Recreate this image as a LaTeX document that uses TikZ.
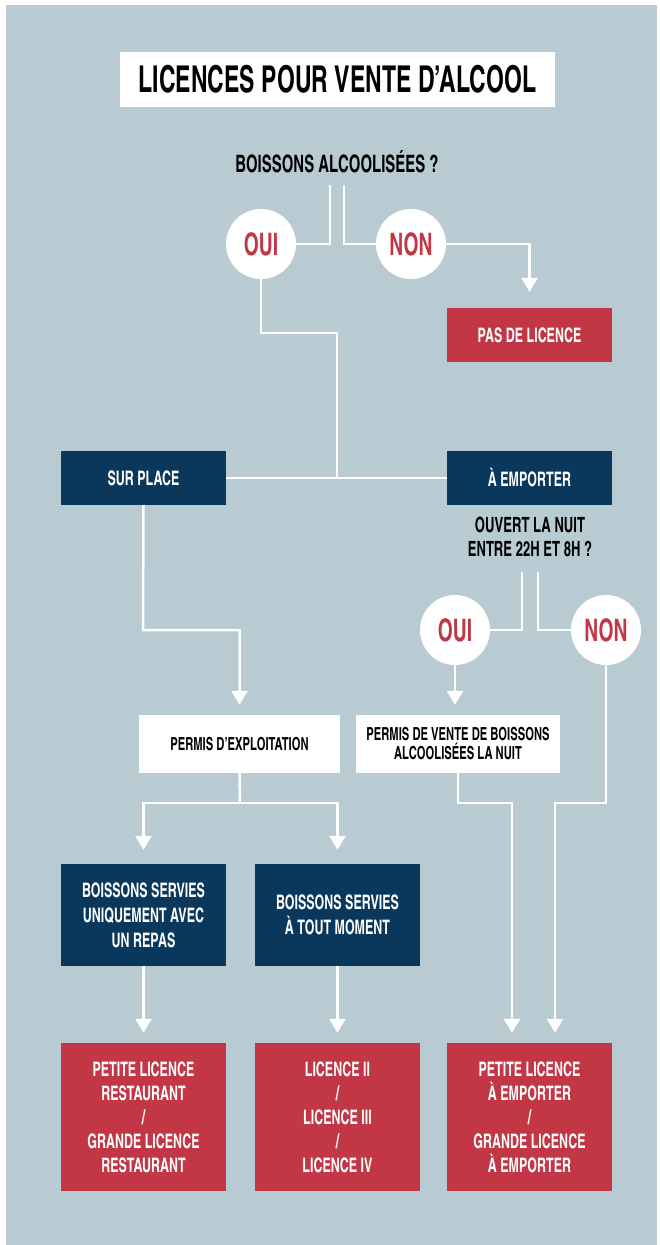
\documentclass[tikz,border=0pt]{standalone}
\usepackage{fontspec}
\setmainfont{TeX Gyre Heros Cn}[FakeStretch=0.76]
\usetikzlibrary{arrows.meta,calc}

\definecolor{fond}{RGB}{185,203,210}
\definecolor{marine}{RGB}{10,56,92}
\definecolor{rouge}{RGB}{195,54,69}

\tikzset{
  boite/.style={minimum width=165pt, minimum height=54pt, inner sep=0pt, align=center,
                font=\bfseries\fontsize{20}{24}\selectfont},
  boitemarine/.style={boite, fill=marine, text=white},
  boiterouge/.style={boite, fill=rouge, text=white},
  boiteblanche/.style={boite, fill=white, text=black, minimum height=58pt},
  rond/.style={circle, fill=white, text=rouge, minimum size=70pt, inner sep=0pt,
               font=\bfseries\fontsize{31}{31}\selectfont},
  question/.style={align=center, text=black, inner sep=0pt},
  trait/.style={draw=white, line width=2.5pt},
  fleche/.style={trait, -{Triangle[width=16pt,length=14pt]}}
}

\begin{document}
\begin{tikzpicture}[x=1pt,y=-1pt]
\useasboundingbox (0,0) rectangle (660,1245);

%%%%%%%%%%%%%%%%%%%%%%%%%%%%%%%%%%%%%%%%%%%%%%%% 	FOND
\fill[fond] (6,5) rectangle (657,1245);

%%%%%%%%%%%%%%%%%%%%%%%%%%%%%%%%%%%%%%%%%%%%%%%% 	TITRE
\node[fill=white, minimum width=435pt, minimum height=55pt, inner sep=0pt,
      font=\bfseries\fontsize{37}{37}\selectfont] (titre) at (337.5,79.5)
      {LICENCES POUR VENTE D’ALCOOL};

%%%%%%%%%%%%%%%%%%%%%%%%%%%%%%%%%%%%%%%%%%%%%%%% 	PREMIERE QUESTION
\node[question, font=\bfseries\fontsize{24}{24}\selectfont] (q1) at (337,162)
      {BOISSONS ALCOOLISÉES ?};
\coordinate (q1g) at (330,185);				%%%%	depart des deux traits
\coordinate (q1d) at (344,185);

\node[rond] (oui1) at (261,244) {OUI};
\node[rond] (non1) at (411,244) {NON};
\node[boiterouge] (pas) at (529.5,335) {PAS DE LICENCE};

\draw[trait] (oui1.east) -| (q1g);
\draw[trait] (q1d) |- (non1.west);
\draw[fleche, shorten >=16pt] (non1.east) -| (pas.north);

%%%%%%%%%%%%%%%%%%%%%%%%%%%%%%%%%%%%%%%%%%%%%%%% 	SUR PLACE / A EMPORTER
\node[boitemarine] (surplace) at (143.5,478) {SUR PLACE};
\node[boitemarine] (emporter) at (529.5,478) {À EMPORTER};

\coordinate (j1) at (337,333);				%%%%	coude sous le OUI
\draw[trait] (oui1.south) |- (j1) -- (j1 |- surplace.east);
\draw[trait] (surplace.east) -- (emporter.west);

%%%%%%%%%%%%%%%%%%%%%%%%%%%%%%%%%%%%%%%%%%%%%%%% 	DEUXIEME QUESTION
\node[question, font=\bfseries\fontsize{21}{24}\selectfont] (q2) at (530,537)
      {OUVERT LA NUIT\\ENTRE 22H ET 8H ?};
\coordinate (q2g) at (522,572);
\coordinate (q2d) at (538,572);

\node[rond] (oui2) at (455,630) {OUI};
\node[rond] (non2) at (606,630) {NON};

\draw[trait] (oui2.east) -| (q2g);
\draw[trait] (q2d) |- (non2.west);

%%%%%%%%%%%%%%%%%%%%%%%%%%%%%%%%%%%%%%%%%%%%%%%% 	PERMIS
\node[boiteblanche, minimum width=201pt, font=\bfseries\fontsize{18}{19}\selectfont]
      (permisexp) at (239.5,744) {PERMIS D’EXPLOITATION};
\node[boiteblanche, minimum width=204pt, font=\bfseries\fontsize{18}{19}\selectfont]
      (permisnuit) at (458,744) {PERMIS DE VENTE DE BOISSONS\\ALCOOLISÉES LA NUIT};

\coordinate (j2) at (143,630);				%%%%	coude sous SUR PLACE
\draw[fleche, shorten >=10pt] (surplace.south) -- (j2) -| (permisexp.north);
\draw[fleche, shorten >=10pt] (oui2.south) -- (oui2.south |- permisnuit.north);

%%%%%%%%%%%%%%%%%%%%%%%%%%%%%%%%%%%%%%%%%%%%%%%% 	BOISSONS SERVIES
\node[boitemarine, minimum height=102pt, font=\bfseries\fontsize{20}{25}\selectfont]
      (repas) at (143.5,915) {BOISSONS SERVIES\\UNIQUEMENT AVEC\\UN REPAS};
\node[boitemarine, minimum height=102pt, font=\bfseries\fontsize{20}{25}\selectfont]
      (tout) at (337.5,915) {BOISSONS SERVIES\\À TOUT MOMENT};

\coordinate (j3) at (240,803);				%%%%	coude sous le permis
\draw[trait] (permisexp.south) -- (j3);
\draw[fleche, shorten >=14pt] (j3) -| (repas.north);
\draw[fleche, shorten >=14pt] (j3) -| (tout.north);

%%%%%%%%%%%%%%%%%%%%%%%%%%%%%%%%%%%%%%%%%%%%%%%% 	LICENCES
\node[boiterouge, minimum height=148pt] (lic1) at (143.5,1117)
      {PETITE LICENCE\\RESTAURANT\\/\\GRANDE LICENCE\\RESTAURANT};
\node[boiterouge, minimum height=148pt] (lic2) at (337.5,1117)
      {LICENCE II\\/\\LICENCE III\\/\\LICENCE IV};
\node[boiterouge, minimum height=148pt] (lic3) at (529.5,1117)
      {PETITE LICENCE\\À EMPORTER\\/\\GRANDE LICENCE\\À EMPORTER};

\draw[fleche, shorten >=10pt] (repas.south) -- (lic1.north);
\draw[fleche, shorten >=10pt] (tout.south) -- (lic2.north);

\coordinate (j4) at (512,803);				%%%%	branche du permis de nuit
\coordinate (j5) at (555,803);				%%%%	branche du NON
\draw[fleche, shorten >=10pt] (permisnuit.south) |- (j4) -- (j4 |- lic3.north);
\draw[fleche, shorten >=10pt] (non2.south) |- (j5) -- (j5 |- lic3.north);

\end{tikzpicture}
\end{document}
